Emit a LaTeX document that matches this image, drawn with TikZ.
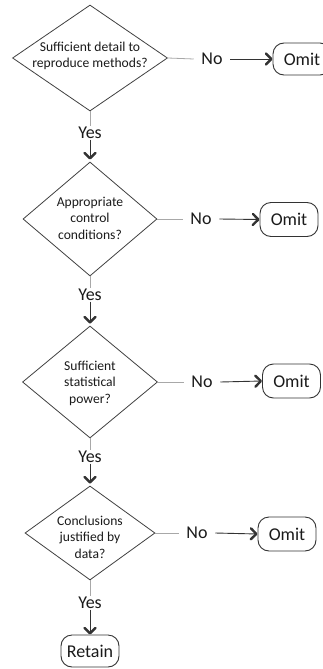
\documentclass[tikz,border=0pt]{standalone}
\usepackage{fontspec}
\setmainfont{Carlito}
\usetikzlibrary{shapes.geometric,arrows.meta}
\definecolor{txt}{HTML}{1A1A1A}
\definecolor{edge}{HTML}{404040}
\definecolor{lite}{HTML}{A8A8A8}
\definecolor{dark}{HTML}{333333}
\tikzset{
  dia/.style={diamond, draw=edge, line width=0.8pt, inner sep=0pt, minimum width=#1},
  qtext/.style={align=center, text=txt, inner sep=0pt, font=\fontsize{13.6}{16.5}\selectfont},
  endbox/.style={draw=dark, line width=0.9pt, rounded corners=11pt, minimum width=58pt, minimum height=32pt, inner sep=0pt, text=txt, font=\fontsize{18}{20}\selectfont},
  lbl/.style={text=txt, font=\fontsize{18}{20}\selectfont, inner xsep=7.5pt, inner ysep=1pt},
  ylbl/.style={text=txt, font=\fontsize{18}{20}\selectfont, inner xsep=2pt, inner ysep=0.5pt},
  liteline/.style={draw=lite, line width=0.8pt},
  arr/.style={draw=dark, line width=0.9pt, -{Straight Barb[length=5.5pt,width=11pt,line width=2.4pt,round]}},
}
\begin{document}
\begin{tikzpicture}[x=1pt,y=-1pt]
\useasboundingbox (0,0) rectangle (322,669);
% diamonds
\node[dia=155pt, minimum height=106pt] (d1) at (90,58) {};
\node[qtext] (t1) at (90,56) {Sufficient detail to\\reproduce methods?};
\node[dia=134pt, minimum height=114pt] (d2) at (90,219) {};
\node[qtext] (t2) at (90,218) {Appropriate\\control\\conditions?};
\node[dia=135pt, minimum height=112pt] (d3) at (90,382) {};
\node[qtext] (t3) at (90,383) {Sufficient\\statistical\\power?};
\node[dia=130pt, minimum height=94pt] (d4) at (90,533) {};
\node[qtext] (t4) at (90,537) {Conclusions\\justified by\\data?};
% end boxes
\node[endbox] (o1) at (302,59) {Omit};
\node[endbox, minimum height=34pt] (o2) at (289,219.5) {Omit};
\node[endbox, minimum height=34pt] (o3) at (291.5,381) {Omit};
\node[endbox, minimum height=34pt] (o4) at (287,534) {Omit};
\node[endbox] (r) at (90,651) {Retain};
% No labels
\node[lbl] (n1) at (212,59) {No};
\node[lbl] (n2) at (201,219) {No};
\node[lbl] (n3) at (202,382) {No};
\node[lbl] (n4) at (197,533) {No};
% Yes labels
\node[ylbl] (y1) at (90,133) {Yes};
\node[ylbl] (y2) at (90,295) {Yes};
\node[ylbl] (y3) at (90,457) {Yes};
\node[ylbl] (y4) at (90,603) {Yes};
% No connectors
\draw[liteline] (d1.east) -- (n1.west);
\draw[arr] (n1.east) -- (o1.west);
\draw[liteline] (d2.east) -- (n2.west);
\draw[arr] (n2.east) -- (o2.west);
\draw[liteline] (d3.east) -- (n3.west);
\draw[arr] (n3.east) -- (o3.west);
\draw[liteline] (d4.east) -- (n4.west);
\draw[arr] (n4.east) -- (o4.west);
% Yes connectors
\draw[liteline] (d1.south) -- (y1.north);
\draw[arr, shorten >=2pt] (y1.south) -- (d2.north);
\draw[liteline] (d2.south) -- (y2.north);
\draw[arr, shorten >=2pt] (y2.south) -- (d3.north);
\draw[liteline] (d3.south) -- (y3.north);
\draw[arr, shorten >=2pt] (y3.south) -- (d4.north);
\draw[liteline] (d4.south) -- (y4.north);
\draw[arr] (y4.south) -- (r.north);
\end{tikzpicture}
\end{document}
